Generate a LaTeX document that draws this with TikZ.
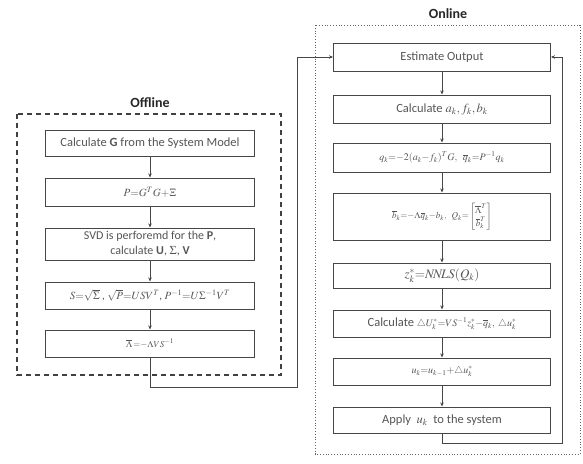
\documentclass[tikz,border=0pt]{standalone}
\usepackage{amsmath}
\usepackage{mathptmx}
\usepackage[no-math]{fontspec}
\setmainfont{Carlito}
\usetikzlibrary{arrows.meta}
\definecolor{lc}{RGB}{70,70,70}
\definecolor{tc}{RGB}{85,85,85}
\newcommand{\fs}[1]{\fontsize{#1}{#1}\selectfont}
\tikzset{
  box/.style={draw=lc, line width=1pt, rectangle, inner sep=1pt, text=tc, font=\fontsize{12.5}{14}\selectfont, align=center},
  offbox/.style={box, minimum width=209pt},
  onbox/.style={box, minimum width=217pt},
  arr/.style={draw=lc, line width=0.9pt, -{Stealth[length=4pt,width=3.5pt]}},
  title/.style={font=\fontsize{14}{16}\selectfont\bfseries, text=black!85},
}
\begin{document}
\begin{tikzpicture}[x=1pt,y=-1pt]
\useasboundingbox (0,0) rectangle (583,463);
% frames
\draw[black!75, line width=1.5pt, dash pattern=on 5pt off 4pt] (17,114) rectangle (281,375);
\draw[black!60, line width=0.8pt, dotted] (315,25) rectangle (580,454);
\node[title] (toff) at (150,103) {Offline};
\node[title] (ton) at (448,14) {Online};
% offline boxes
\node[offbox, minimum height=26pt] (b1) at (150,143) {Calculate \textbf{G} from the System Model};
\node[offbox, minimum height=28pt] (b2) at (150,192) {\fs{11}$P{=}G^{T}G{+}\Xi$};
\node[offbox, minimum height=32pt, font=\fontsize{12}{15}\selectfont] (b3) at (150,244) {SVD is perforemd for the \textbf{P},\\ calculate \textbf{U}, \textbf{$\Sigma$}, \textbf{V}};
\node[offbox, minimum height=27pt] (b4) at (150,295.5) {\fs{11}$S{=}\sqrt{\Sigma}$ ,\ $\sqrt{P}{=}USV^{T}$,\ $P^{-1}{=}U\Sigma^{-1}V^{T}$};
\node[offbox, minimum height=27pt] (b5) at (150,343.5) {\fs{9}$\overline{\Lambda}\,{=}{-}\Lambda VS^{-1}$};
% online boxes
\node[onbox, minimum height=28pt] (E) at (442,57) {Estimate Output};
\node[onbox, minimum height=28pt] (c2) at (442,109) {Calculate $a_k, f_k, b_k$};
\node[onbox, minimum height=29pt] (c3) at (442,157.5) {\fs{10}$q_k{=}{-}2(a_k{-}f_k)^{T}G,\ \ \overline{q}_k{=}P^{-1}q_k$};
\node[onbox, minimum height=47pt] (c4) at (442,216.5) {\fs{9}$\overline{b}_k{=}{-}\Lambda\overline{q}_k{-}b_k,\ \ Q_k{=}\begin{bmatrix}\overline{\Lambda}^{T}\\ \overline{b}_k^{T}\end{bmatrix}$};
\node[onbox, minimum height=25pt] (c5) at (442,275.5) {\fs{13}$z_k^{*}{=}N\!N\!LS(Q_k)$};
\node[onbox, minimum height=27pt] (c6) at (442,323.5) {Calculate \fs{10}$\triangle U_k^{*}{=}VS^{-1}z_k^{*}{-}\overline{q}_k,\ \triangle u_k^{*}$};
\node[onbox, minimum height=27pt] (c7) at (442,371.5) {\fs{10}$u_k{=}u_{k-1}{+}\triangle u_k^{*}$};
\node[onbox, minimum height=26pt] (c8) at (442,420) {Apply\ \ $u_k$\ \ to the system};
% offline arrows
\draw[arr] (b1) -- (b2);
\draw[arr] (b2) -- (b3);
\draw[arr] (b3) -- (b4);
\draw[arr] (b4) -- (b5);
% online arrows
\draw[arr] (E) -- (c2);
\draw[arr] (c2) -- (c3);
\draw[arr] (c3) -- (c4);
\draw[arr] (c4) -- (c5);
\draw[arr] (c5) -- (c6);
\draw[arr] (c6) -- (c7);
\draw[arr] (c7) -- (c8);
% links
\coordinate (j1) at (297,387);
\coordinate (j2) at (562,443);
\draw[arr] (b5.south) |- (j1) |- (E.west);
\draw[arr] (c8.south) |- (j2) |- (E.east);
\end{tikzpicture}
\end{document}
